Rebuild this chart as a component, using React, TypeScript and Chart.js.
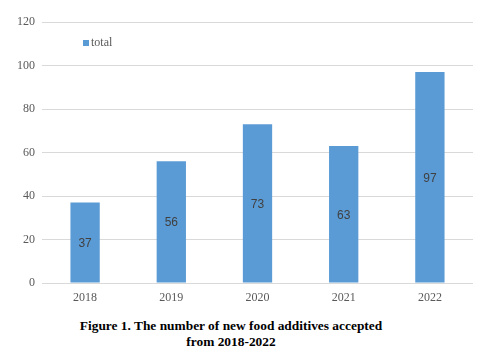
import React, { useEffect, useRef } from "react";
import { Chart, registerables } from "chart.js";

Chart.register(...registerables);

const categories = ["2018", "2019", "2020", "2021", "2022"];
const totals = [37, 56, 73, 63, 97];
const seriesLabel = "total";
const captionLines = ["Figure 1. The number of new food additives accepted", "from 2018-2022"];

const BAR_COLOR = "#5B9BD5";

const labelsPlugin = {
  id: "barLabels",
  afterDatasetsDraw(chart: any) {
    const ctx = chart.ctx;
    const meta = chart.getDatasetMeta(0);
    ctx.save();
    ctx.font = "12px 'Liberation Sans', Arial, sans-serif";
    ctx.fillStyle = "#404040";
    ctx.textAlign = "center";
    ctx.textBaseline = "middle";
    meta.data.forEach((bar: any, i: number) => {
      const v = chart.data.datasets[0].data[i];
      ctx.fillText(String(v), bar.x, (bar.y + bar.base) / 2 + 1);
    });
    // legend inside plot
    const lx = chart.chartArea.left + 41;
    const ly = chart.chartArea.top + 21;
    ctx.fillStyle = BAR_COLOR;
    ctx.fillRect(lx, ly - 3, 6, 6);
    ctx.fillStyle = "#595959";
    ctx.font = "12px 'Liberation Serif', 'Times New Roman', serif";
    ctx.textAlign = "left";
    ctx.fillText(chart.data.datasets[0].label, lx + 8, ly);
    ctx.restore();
  },
};

export default function App() {
  const ref = useRef<HTMLCanvasElement>(null);
  useEffect(() => {
    document.body.style.margin = "0";
    const chart = new Chart(ref.current!, {
      type: "bar",
      data: {
        labels: categories,
        datasets: [
          {
            label: seriesLabel,
            data: totals,
            backgroundColor: BAR_COLOR,
            barPercentage: 0.68,
            categoryPercentage: 0.5,
          },
        ],
      },
      options: {
        animation: false,
        responsive: false,
        devicePixelRatio: 1,
        layout: { padding: { top: 22, right: 12, left: 0, bottom: 0 } },
        plugins: { legend: { display: false }, tooltip: { enabled: false } },
        scales: {
          x: {
            grid: { display: false, drawTicks: false },
            border: { display: false },
            ticks: {
              padding: 8,
              color: "#595959",
              font: { family: "'Liberation Serif', 'Times New Roman', serif", size: 12 },
            },
            afterFit: (s: any) => {
              s.height = 27;
            },
          },
          y: {
            min: 0,
            max: 120,
            ticks: {
              stepSize: 20,
              padding: 7,
              color: "#595959",
              font: { family: "'Liberation Serif', 'Times New Roman', serif", size: 12 },
            },
            grid: { color: "#d9d9d9", drawTicks: false },
            border: { display: false },
            afterFit: (s: any) => {
              s.width = 42;
            },
          },
        },
      },
      plugins: [labelsPlugin],
    });
    return () => chart.destroy();
  }, []);
  return (
    <div style={{ width: 485, height: 353, background: "#fff" }}>
      <canvas ref={ref} width={485} height={310} style={{ display: "block" }} />
      <div
        style={{
          width: 462,
          marginTop: 8,
          textAlign: "center",
          fontFamily: "'Liberation Serif', 'Times New Roman', serif",
          fontWeight: "bold",
          fontSize: 13.4,
          lineHeight: "16px",
          color: "#000",
        }}
      >
        {captionLines.map((l, i) => (
          <div key={i}>{l}</div>
        ))}
      </div>
    </div>
  );
}
